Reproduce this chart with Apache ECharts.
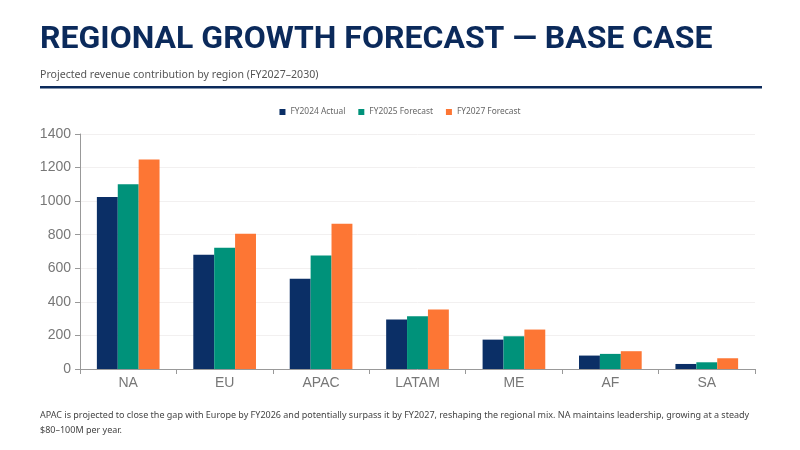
<!DOCTYPE html>
<html>
<head>
<meta charset="utf-8">
<script src="https://cdn.jsdelivr.net/npm/echarts@6/dist/echarts.min.js"></script>
<style>
  html, body { margin: 0; padding: 0; background: #fff; }
  #chart { width: 800px; height: 450px; }
</style>
</head>
<body>
<div id="chart"></div>
<script>
const regions = ['NA', 'EU', 'APAC', 'LATAM', 'ME', 'AF', 'SA'];
const fy2024Actual = [1025, 680, 538, 295, 175, 80, 30];
const fy2025Forecast = [1100, 722, 676, 315, 195, 90, 40];
const fy2027Forecast = [1248, 806, 866, 355, 235, 106, 64];
const seriesNames = ['FY2024 Actual', 'FY2025 Forecast', 'FY2027 Forecast'];
const colorList = ['#0b2f66', '#00927a', '#fd7634'];

const footNote = 'APAC is projected to close the gap with Europe by FY2026 and potentially surpass it by FY2027, reshaping the regional mix. NA maintains leadership, growing at a steady\n$80\u2013100M per year.';

let chart = echarts.init(document.getElementById('chart'));

let option = {
    backgroundColor: '#fff',
    color: colorList,
    title: [{
        text: 'REGIONAL GROWTH FORECAST \u2014 BASE CASE',
        left: 40,
        top: 24,
        padding: 0,
        textStyle: {
            color: '#0b2a5b',
            fontSize: 32,
            fontWeight: 'bold',
            fontFamily: 'Roboto'
        }
    }, {
        text: 'Projected revenue contribution by region (FY2027\u20132030)',
        left: 40,
        top: 69,
        padding: 0,
        textStyle: {
            color: '#555',
            fontSize: 10.6,
            fontWeight: 'normal',
            fontFamily: 'Noto Sans'
        }
    }],
    legend: {
        data: seriesNames,
        top: 108,
        left: 'center',
        padding: 0,
        itemWidth: 6,
        itemHeight: 6,
        itemGap: 13,
        icon: 'rect',
        textStyle: {
            color: '#666',
            fontSize: 8.4,
            fontFamily: 'Noto Sans'
        }
    },
    grid: {
        left: 80,
        right: 45,
        top: 134,
        bottom: 81,
        containLabel: false
    },
    xAxis: {
        type: 'category',
        data: regions,
        axisLine: { lineStyle: { color: '#999' } },
        axisTick: { show: true, lineStyle: { color: '#999' } },
        axisLabel: {
            color: '#777',
            fontSize: 14,
            fontFamily: 'Liberation Sans',
            margin: 7
        }
    },
    yAxis: {
        type: 'value',
        min: 0,
        max: 1400,
        interval: 200,
        axisLine: { show: true, lineStyle: { color: '#999' } },
        axisTick: { show: true, lineStyle: { color: '#999' } },
        axisLabel: {
            color: '#777',
            fontSize: 14,
            fontFamily: 'Liberation Sans',
            margin: 9,
            formatter: function(v) { return String(v); }
        },
        splitLine: {
            show: true,
            lineStyle: { color: '#f2f0f0' }
        }
    },
    series: [{
        name: seriesNames[0],
        type: 'bar',
        data: fy2024Actual,
        barGap: '0%',
        barCategoryGap: '35%'
    }, {
        name: seriesNames[1],
        type: 'bar',
        data: fy2025Forecast
    }, {
        name: seriesNames[2],
        type: 'bar',
        data: fy2027Forecast
    }],
    graphic: [{
        type: 'rect',
        shape: { x: 40, y: 86, width: 722, height: 2.5 },
        style: { fill: '#0b2a5b' }
    }, {
        type: 'text',
        left: 40,
        top: 408,
        style: {
            text: footNote,
            fill: '#444',
            fontSize: 9,
            lineHeight: 15,
            fontFamily: 'Noto Sans'
        }
    }]
};

chart.setOption(option);

window.onresize = function() {
    chart.resize();
};
</script>
</body>
</html>
